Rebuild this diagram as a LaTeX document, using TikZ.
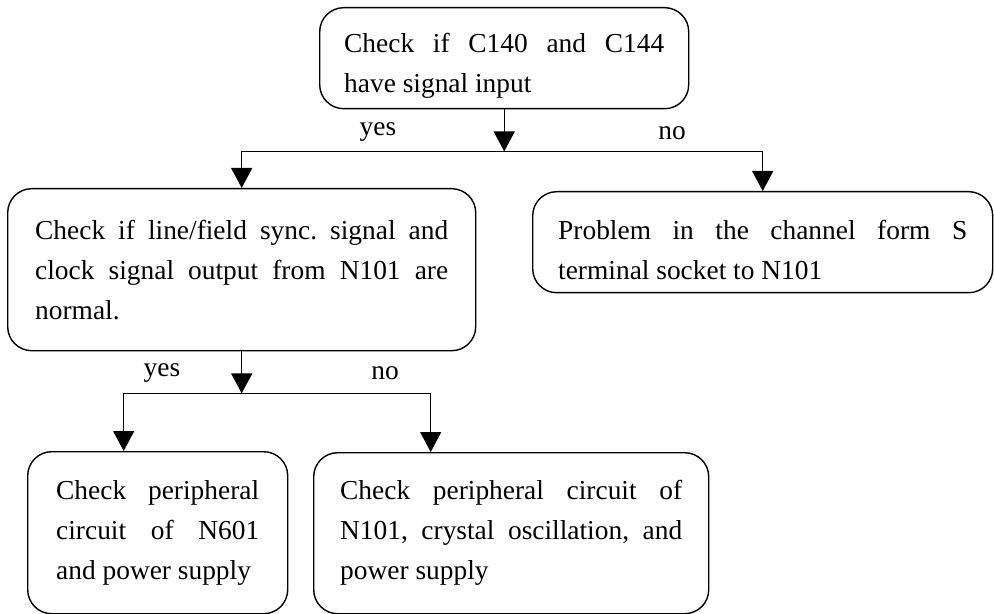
\documentclass[tikz,border=0pt]{standalone}
\usepackage{fontspec}
\setmainfont{Liberation Serif}
\usetikzlibrary{arrows.meta,positioning,calc}
\frenchspacing
\tikzset{edge/.style = {
    line width=0.7pt,
    -{Triangle[length=10pt, width=10.5pt]},
  }
}

\begin{document}
\begin{tikzpicture}[x=0.5pt, y=-0.5pt]
  % vertices
  \tikzstyle{check} = [rectangle, draw, line width=0.7pt, rounded corners=12pt, align=justify, below right, inner ysep=0pt, font=\fontsize{13.7}{20}\selectfont, execute at begin node={\frenchspacing\hyphenpenalty=10000\tolerance=9999}]
  \tikzstyle{twoline} = [text height=17pt]
  \tikzstyle{answer} = [font=\fontsize{13.7}{20}\selectfont, inner sep=0pt]

  \useasboundingbox (0,0) rectangle (994,614);

  \node[check, twoline, text width=160pt, inner xsep=12.25pt, minimum height=50.5pt] (input) at (319,7) {Check if C140 and C144\linebreak have signal input};

  \node[check, text width=206.5pt, inner xsep=13.75pt, minimum height=81pt] (sync) at (7,188) {Check if line/field sync. signal and clock signal output from N101 are normal.};
  \node[check, twoline, text width=204.5pt, inner xsep=12.75pt, minimum height=50.5pt] (channel) at (532,191) {Problem in the channel form S terminal socket to N101};

  \node[check, text width=101.5pt, inner xsep=14.25pt, minimum height=81pt] (periph) at (27,451) {Check peripheral circuit of N601 and power supply};
  \node[check, text width=171pt, inner xsep=13.25pt, minimum height=80.5pt] (crystal) at (313,452) {Check peripheral circuit of N101, crystal oscillation, and power supply};

  % edges
  \coordinate (split1) at ([yshift=-21pt]input.south);
  \draw[edge] (input.south) -- (split1);
  \draw[edge] (split1) -| (sync.north);
  \draw[edge] (split1) -| (channel.north);
  \node[answer] (yes1) at (378,132) {yes};
  \node[answer] (no1) at (672,133) {no};

  \coordinate (split2) at ([yshift=-21pt]sync.south);
  \draw[edge] (sync.south) -- (split2);
  \draw[edge] (split2) -| ([xshift=-17pt]periph.north);
  \draw[edge] (split2) -| ([xshift=-40.25pt]crystal.north);
  \node[answer] (yes2) at (162,373) {yes};
  \node[answer] (no2) at (385,373) {no};
\end{tikzpicture}
\end{document}
